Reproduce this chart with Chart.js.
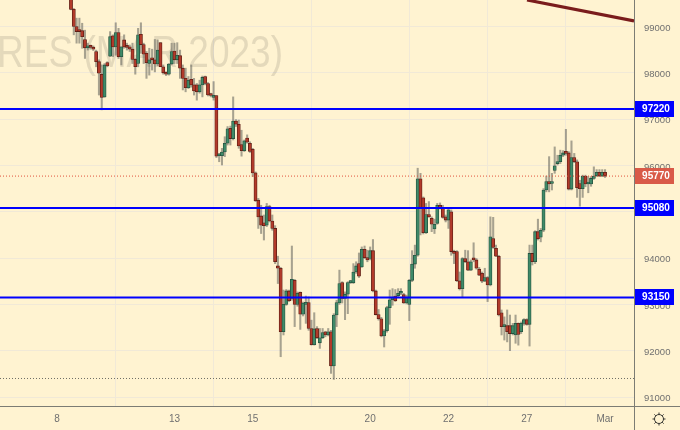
<!DOCTYPE html>
<html>
<head>
<meta charset="utf-8">
<style>
  html, body { margin: 0; padding: 0; background: #fff3d1; }
  canvas { display: block; }
</style>
<script src="https://cdn.jsdelivr.net/npm/chart.js@4"></script>
</head>
<body>
<canvas id="chart" width="680" height="430"></canvas>
<script>
// hourly candles, first one sits 5 bars after the "8" tick
const FIRST_BAR = 5;

const opens = [
  99640,99370,99000,98910,98910,98720,98540,98560,98550,98460,98240,97970,97480,98220,98360,98800,98560,98870,98350,98710,98590,98560,98510,98290,
  98200,98830,98610,98420,98200,98290,98280,98190,98650,98130,98000,97970,98190,98470,98280,98370,98100,97880,97680,97860,97740,97740,97590,97740,97920,97770,97520,97470,97510,
  96210,96210,96290,96480,96800,96580,96960,96890,96450,96320,96590,96480,96350,95840,95250,94910,94760,94710,95110,94800,94640,
  93830,93780,92410,93000,93290,93130,93520,93000,93260,92790,93000,93040,92480,92130,92480,92170,92280,92410,92340,92410,91670,92770,93030,93470,93130,93220,93470,93470,93700,93880,93810,94190,94010,93990,94160,93290,92780,92690,92320,92430,92930,93100,93180,93190,93240,93210,93030,93000,93520,93870,94060,
  95710,95300,94550,94940,94860,94630,94750,95140,95090,94890,94820,95000,94140,94140,93510,93340,93990,93920,93740,93990,93960,93760,93670,93500,93580,93420,94420,94210,94040,92820,92520,92540,92540,92370,92340,92590,92410,92590,92670,92570,94100,93920,94570,94450,94600,
  95470,95650,95610,95890,96040,96080,96220,96270,96270,95490,96170,96080,95610,95500,95770,95600,95600,95720,95780,95850,95770,95850
];
const highs = [
  99750,99390,99180,99180,99070,98920,98640,98600,98580,98490,98280,98170,98200,98240,98890,98820,99080,98960,98560,98820,98640,98600,98640,98310,
  98960,99080,98640,98460,98530,98510,98720,98710,98650,98170,98020,98200,98640,98640,98650,98490,98170,98100,97920,98170,97880,97770,97840,97930,97930,97790,97560,97810,97510,
  96260,96370,96620,96840,96850,97480,96990,96980,96760,96550,96660,96510,96370,95860,95290,95140,94930,95180,95140,94930,94700,
  94040,93800,93310,93320,93310,94260,93540,93270,93270,93050,93180,93160,92660,92820,92520,92480,92480,92420,92480,92440,92800,93090,93740,93490,93270,93490,93520,93880,93920,94110,94240,94260,94170,94240,94400,93310,92890,92720,92460,92960,93310,93340,93320,93340,93340,93240,93200,93540,94160,94280,95940,
  95830,95320,95180,95220,94890,94840,95180,95190,95140,94930,95070,95040,94170,94160,93700,94010,94170,94160,93960,94330,93990,93800,93700,93780,93600,94890,94880,94280,94060,92880,92730,92880,92770,92590,92770,92600,92620,92690,92690,94280,94280,94590,94840,94640,95500,
  95770,96190,95830,96400,96220,96330,96320,96780,96300,96530,96260,96120,95680,95790,95790,95760,95760,95970,95910,95910,95910,95910
];
const lows = [
  99360,98820,98640,98640,98530,98310,98490,98510,98480,98130,97520,97200,97470,98130,98350,98350,98380,98310,98170,98530,98490,98460,98200,97970,
  98130,98420,98200,97880,97950,98060,98020,98150,98130,97970,97940,97950,98170,98200,98200,97880,97630,97590,97660,97690,97520,97410,97560,97480,97740,97500,97480,97410,96170,
  96080,96010,96190,96440,96440,96550,96840,96370,96200,96300,96480,96280,95760,95220,94640,94530,94390,94680,94780,94600,93880,
  93450,91870,92340,92980,93060,93090,92520,92960,92460,92750,92590,92440,92120,92120,92260,92050,92260,92300,92320,91510,91380,92520,93000,93030,92670,92800,93450,93450,93670,93580,93800,93990,93920,93960,93270,92770,92660,92300,92080,92400,92570,92980,93060,93160,93210,93020,93010,92650,93490,93780,94040,
  94500,94520,94530,94880,94570,94530,94730,95060,94860,94780,94640,94060,93880,93490,93310,93160,93900,93730,93730,93920,93760,93620,93470,93490,93060,93400,94210,94030,92750,92340,92230,92190,92000,92340,92160,92120,92370,92550,92550,92100,93850,93880,94390,94350,94570,
  95430,95430,95470,95830,96010,96040,96190,96220,95470,95470,96060,95310,95120,95310,95540,95410,95550,95700,95760,95760,95760,95740
];
const closes = [
  99370,99000,98890,98890,98780,98540,98580,98550,98510,98240,97990,97470,98170,98150,98780,98560,98870,98350,98560,98560,98550,98510,98290,98130,
  98820,98610,98400,98220,98280,98280,98190,98490,98130,98000,97970,98190,98460,98280,98380,98100,97880,97680,97840,97740,97610,97590,97740,97900,97770,97520,97510,97500,96200,
  96220,96290,96480,96790,96580,96960,96890,96420,96320,96530,96500,96300,95840,95240,94890,94710,94700,95110,94800,94640,93920,
  93780,92410,93000,93290,93080,93540,93000,93240,92790,93030,93040,92480,92130,92470,92280,92280,92390,92340,92410,91670,92770,93040,93450,93130,93220,93470,93490,93700,93830,93610,94190,94010,93960,94160,93290,92780,92690,92320,92430,92930,93100,93160,93080,93240,93250,93030,93160,93520,93870,94060,95710,
  95070,94550,94940,94890,94730,94730,95140,95090,94880,94820,95040,94140,94100,93510,93340,93990,93920,93740,93920,93960,93780,93630,93500,93580,93420,94460,94230,94040,92770,92520,92540,92410,92370,92540,92590,92350,92590,92670,92570,94100,93920,94570,94420,94600,95470,
  95650,95600,95650,95990,96080,96220,96270,96260,95490,96170,96080,95520,95500,95770,95600,95610,95720,95770,95850,95770,95850,95770
];

const dayLabels = ["8", "13", "15", "20", "22", "27", "Mar"];
const dayBars = [0, 42, 70, 112, 140, 168, 196];
const priceTicks = [91000, 92000, 93000, 94000, 95000, 96000, 97000, 98000, 99000];

const levelPrices = [97220, 95080, 93150];
const lastPrice = 95770;
const lowMark = 91400;
const trendBars = [168.1, 206.36];
const trendPrices = [99572, 99119];

const BG = "#fff3d1";
const AXIS_LINE = "#7c7c74";
const TICK_COLOR = "#707070";
const FONT = "'Liberation Sans', Arial, sans-serif";

const xMin = -20.39;
const xMax = 206.36;
const yMin = 90806;
const yMax = 99572;

const bars = opens.map((_, i) => i + FIRST_BAR);
const isUp = (i) => closes[i] >= opens[i];

function flatLine(price, color, width, dash) {
  return {
    type: "line",
    data: [{ x: xMin, y: price }, { x: xMax, y: price }],
    borderColor: color,
    borderWidth: width,
    borderDash: dash || [],
    pointRadius: 0,
    order: 1,
  };
}

const watermark = {
  id: "watermark",
  beforeDatasetsDraw(chart) {
    const c = chart.ctx;
    c.save();
    c.fillStyle = "rgba(120,115,100,0.2)";
    c.font = "44px " + FONT;
    c.textAlign = "left";
    c.textBaseline = "alphabetic";
    c.fillText("RES (MAR 2023)", -3, 67, 286);
    c.restore();
  },
};

function pill(c, y, color, text) {
  c.fillStyle = color;
  c.fillRect(635, Math.round(y) - 8, 39, 16);
  c.fillStyle = "#ffffff";
  c.font = "bold 10px " + FONT;
  c.textAlign = "center";
  c.textBaseline = "middle";
  c.fillText(text, 656, Math.round(y) + 0.5);
}

const overlay = {
  id: "overlay",
  afterDraw(chart) {
    const c = chart.ctx;
    const yScale = chart.scales.y;
    c.save();
    // axis frame runs to the canvas edges
    c.fillStyle = AXIS_LINE;
    c.fillRect(0, 406, 680, 1);
    c.fillRect(634, 0, 1, 430);
    levelPrices.forEach((p) => pill(c, yScale.getPixelForValue(p), "#0000ff", String(p)));
    pill(c, yScale.getPixelForValue(lastPrice), "#d95a48", String(lastPrice));
    // settings icon
    c.strokeStyle = "#33332e";
    c.lineWidth = 1;
    c.beginPath();
    c.arc(659, 419, 4.5, 0, Math.PI * 2);
    for (let a = 0; a < 8; a++) {
      const t = (a * Math.PI) / 4;
      c.moveTo(659 + Math.cos(t) * 4.5, 419 + Math.sin(t) * 4.5);
      c.lineTo(659 + Math.cos(t) * 6.5, 419 + Math.sin(t) * 6.5);
    }
    c.stroke();
    c.restore();
  },
};

new Chart(document.getElementById("chart").getContext("2d"), {
  type: "bar",
  data: {
    datasets: [
      {
        data: bars.map((x, i) => ({ x, y: [lows[i], highs[i]] })),
        backgroundColor: "rgba(95,95,90,0.55)",
        borderWidth: 0,
        barThickness: 1.4,
        grouped: false,
        order: 3,
      },
      {
        data: bars.map((x, i) => ({ x, y: [opens[i], closes[i]] })),
        backgroundColor: bars.map((_, i) => (isUp(i) ? "#3f8a68" : "#b23a2a")),
        borderColor: bars.map((_, i) => (isUp(i) ? "#24523f" : "#5e1d14")),
        borderWidth: 0.8,
        borderSkipped: false,
        barThickness: 3.2,
        minBarLength: 2,
        grouped: false,
        order: 2,
      },
      flatLine(lowMark, "#6f6f66", 1, [1, 2]),
      flatLine(lastPrice, "#e0523c", 1, [1, 2]),
      ...levelPrices.map((p) => flatLine(p, "#0000ff", 2)),
      {
        type: "line",
        data: trendBars.map((x, i) => ({ x, y: trendPrices[i] })),
        borderColor: "#7a1c1c",
        borderWidth: 3.2,
        pointRadius: 0,
        order: 1,
      },
    ],
  },
  options: {
    responsive: false,
    animation: false,
    layout: { padding: 0 },
    plugins: { legend: { display: false }, tooltip: { enabled: false } },
    scales: {
      x: {
        type: "linear",
        min: xMin,
        max: xMax,
        offset: false,
        border: { display: false },
        grid: { color: "#f1e9d7", lineWidth: 1, drawTicks: false },
        afterBuildTicks(scale) {
          scale.ticks = dayBars.map((value) => ({ value }));
        },
        afterFit(scale) {
          scale.height = 24;
          scale.paddingLeft = 0;
          scale.paddingRight = 0;
        },
        ticks: {
          autoSkip: false,
          maxRotation: 0,
          padding: 7,
          color: TICK_COLOR,
          font: { family: FONT, size: 10 },
          callback: (v) => dayLabels[dayBars.indexOf(v)],
        },
      },
      y: {
        position: "right",
        min: yMin,
        max: yMax,
        border: { display: false },
        grid: { color: "#f1e9d7", lineWidth: 1, drawTicks: false },
        afterBuildTicks(scale) {
          scale.ticks = priceTicks.map((value) => ({ value }));
        },
        afterFit(scale) {
          scale.width = 46;
          scale.paddingTop = 0;
          scale.paddingBottom = 0;
        },
        ticks: {
          padding: 10,
          labelOffset: 1.5,
          color: TICK_COLOR,
          font: { family: FONT, size: 9.5 },
          callback: (v) => String(v),
        },
      },
    },
  },
  plugins: [watermark, overlay],
});
</script>
</body>
</html>
